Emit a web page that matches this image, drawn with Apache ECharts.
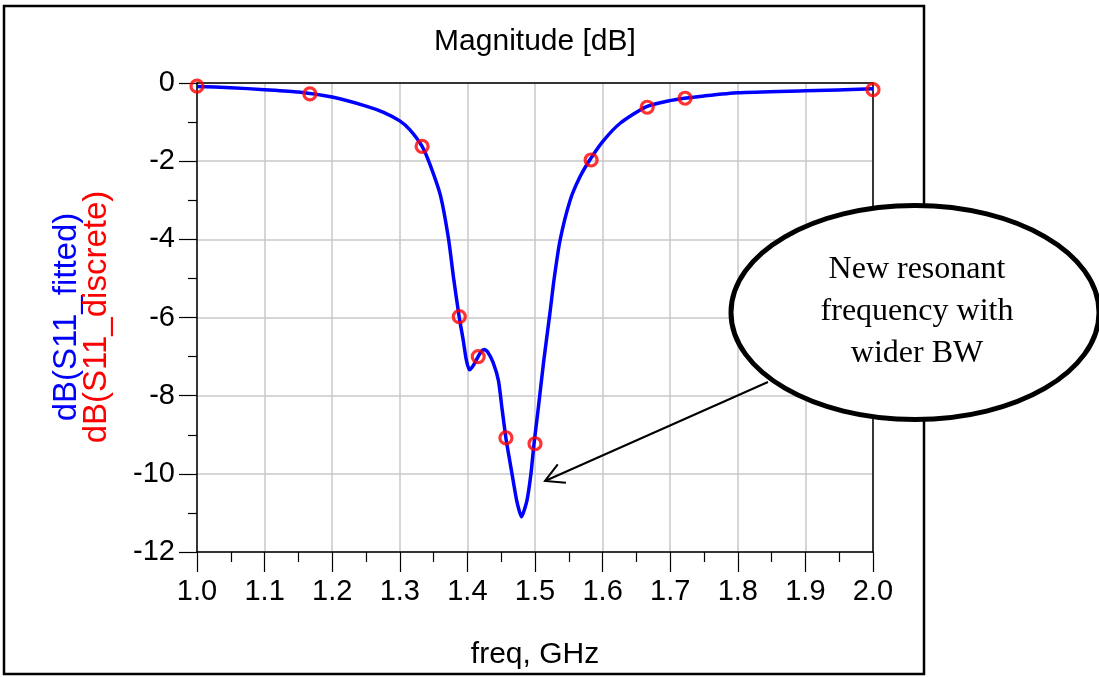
<!DOCTYPE html>
<html>
<head>
<meta charset="utf-8">
<script src="https://cdn.jsdelivr.net/npm/echarts@6/dist/echarts.min.js"></script>
<style>html,body{margin:0;padding:0;background:#fff;}#c{width:1099px;height:677px;}</style>
</head>
<body>
<div id="c"></div>
<script>
// fitted curve (blue)
const fittedFreq = [1.00,1.05,1.10,1.15,1.20,1.25,1.276,1.30,1.315,1.333,1.345,1.36,1.372,1.38,1.388,1.394,1.398,1.403,1.408,1.414,1.42,1.425,1.43,1.438,1.446,1.451,1.457,1.466,1.473,1.480,1.488,1.494,1.4985,1.505,1.513,1.522,1.528,1.537,1.552,1.566,1.581,1.601,1.626,1.664,1.697,1.721,1.75,1.80,1.90,2.00];
const fittedDB = [-0.09,-0.12,-0.17,-0.23,-0.36,-0.59,-0.75,-0.97,-1.2,-1.62,-2.1,-2.87,-3.98,-5.05,-6.0,-6.6,-7.05,-7.34,-7.25,-7.06,-6.88,-6.82,-6.88,-7.15,-7.62,-8.3,-9.09,-10.0,-10.69,-11.1,-10.69,-10.0,-9.24,-8.3,-7.1,-5.9,-5.05,-4.03,-3.0,-2.42,-1.97,-1.48,-1.03,-0.61,-0.46,-0.39,-0.33,-0.25,-0.20,-0.15];
// discrete samples (red)
const discreteFreq = [1.0,1.167,1.333,1.388,1.416,1.457,1.5,1.583,1.666,1.722,2.0];
const discreteDB = [-0.08,-0.28,-1.62,-5.98,-7.0,-9.08,-9.23,-1.97,-0.62,-0.39,-0.17];
// ticks
const xTicks = {min:1.0, max:2.0, step:0.1};
const yTicks = {min:-12, max:0, step:2};
const titleText = 'Magnitude [dB]';
const xName = 'freq, GHz';
const yName1 = 'dB(S11_fitted)';
const yName2 = 'dB(S11_discrete)';
const noteLines = ['New resonant', 'frequency with', 'wider BW'];

const chart = echarts.init(document.getElementById('c'), null, {renderer:'canvas'});
const font = 'Liberation Sans, Arial, sans-serif';
const serif = 'Liberation Serif, Times New Roman, serif';
const tip = [545, 481];
const tail = [768, 382];
const ang = Math.atan2(tail[1]-tip[1], tail[0]-tip[0]);
const aLen = 21, aSpread = 0.5;
const arm1 = [tip[0]+aLen*Math.cos(ang+aSpread), tip[1]+aLen*Math.sin(ang+aSpread)];
const arm2 = [tip[0]+aLen*Math.cos(ang-aSpread), tip[1]+aLen*Math.sin(ang-aSpread)];

const borderAxis = {axisLine:{show:true, onZero:false, lineStyle:{color:'#000', width:1.5}}, axisTick:{show:false}, axisLabel:{show:false}, splitLine:{show:false}};

chart.setOption({
  animation:false,
  backgroundColor:'#fff',
  grid:{left:197, top:83, right:226, bottom:125, show:false},
  xAxis:[{type:'value', min:xTicks.min, max:xTicks.max, interval:xTicks.step, position:'bottom',
    axisLine:{onZero:false, lineStyle:{color:'#000', width:1.5}},
    axisTick:{show:true, inside:false, length:20, lineStyle:{color:'#000', width:1.2}},
    minorTick:{show:true, splitNumber:2, length:10, lineStyle:{color:'#000', width:1.2}},
    axisLabel:{color:'#000', fontSize:29, fontFamily:font, margin:25, formatter:v=>v.toFixed(1)},
    splitLine:{show:true, lineStyle:{color:'#c8c8c8', width:1.5}}},
    Object.assign({type:'value', min:xTicks.min, max:xTicks.max, position:'top'}, borderAxis)],
  yAxis:[{type:'value', min:yTicks.min, max:yTicks.max, interval:yTicks.step, position:'left',
    axisLine:{show:true, onZero:false, lineStyle:{color:'#000', width:1.5}},
    axisTick:{show:true, inside:false, length:18, lineStyle:{color:'#000', width:1.2}},
    minorTick:{show:true, splitNumber:2, length:9, lineStyle:{color:'#000', width:1.2}},
    axisLabel:{color:'#000', fontSize:29, fontFamily:font, margin:22},
    splitLine:{show:true, lineStyle:{color:'#c8c8c8', width:1.5}}},
    Object.assign({type:'value', min:yTicks.min, max:yTicks.max, position:'right'}, borderAxis)],
  series:[
    {type:'line', data:fittedFreq.map((f,i)=>[f, fittedDB[i]]), showSymbol:false, smooth:0.2,
     lineStyle:{color:'#0000ff', width:3.5}, z:2},
    {type:'scatter', data:discreteFreq.map((f,i)=>[f, discreteDB[i]]), symbol:'circle', symbolSize:12,
     itemStyle:{color:'rgba(0,0,0,0)', borderColor:'#ff0000', borderWidth:3.2}, z:3}
  ],
  graphic:[
    {type:'rect', shape:{x:4, y:6, width:920, height:668}, style:{fill:'none', stroke:'#000', lineWidth:2.5}, z:50},
    {type:'text', x:535, y:42, style:{text:titleText, font:'30px '+font, fill:'#000', textAlign:'center', textVerticalAlign:'middle'}, z:50},
    {type:'text', x:535, y:655, style:{text:xName, font:'30px '+font, fill:'#000', textAlign:'center', textVerticalAlign:'middle'}, z:50},
    {type:'text', x:67, y:317, rotation:Math.PI/2, style:{text:yName1, font:'33px '+font, fill:'#0000ff', textAlign:'center', textVerticalAlign:'middle'}, z:50},
    {type:'text', x:97, y:317, rotation:Math.PI/2, style:{text:yName2, font:'33px '+font, fill:'#ff0000', textAlign:'center', textVerticalAlign:'middle'}, z:50},
    {type:'line', shape:{x1:tail[0], y1:tail[1], x2:tip[0], y2:tip[1]}, style:{stroke:'#000', lineWidth:2}, z:60},
    {type:'polyline', shape:{points:[arm1, tip, arm2]}, style:{stroke:'#000', lineWidth:2, fill:'none'}, z:60},
    {type:'ellipse', shape:{cx:915, cy:312.5, rx:184, ry:107}, style:{fill:'#fff', stroke:'#000', lineWidth:5}, z:70},
    {type:'text', x:917, y:270, style:{text:noteLines[0], font:'32px '+serif, fill:'#000', textAlign:'center', textVerticalAlign:'middle'}, z:80},
    {type:'text', x:917, y:312, style:{text:noteLines[1], font:'32px '+serif, fill:'#000', textAlign:'center', textVerticalAlign:'middle'}, z:80},
    {type:'text', x:917, y:354, style:{text:noteLines[2], font:'32px '+serif, fill:'#000', textAlign:'center', textVerticalAlign:'middle'}, z:80}
  ]
});
</script>
</body>
</html>
